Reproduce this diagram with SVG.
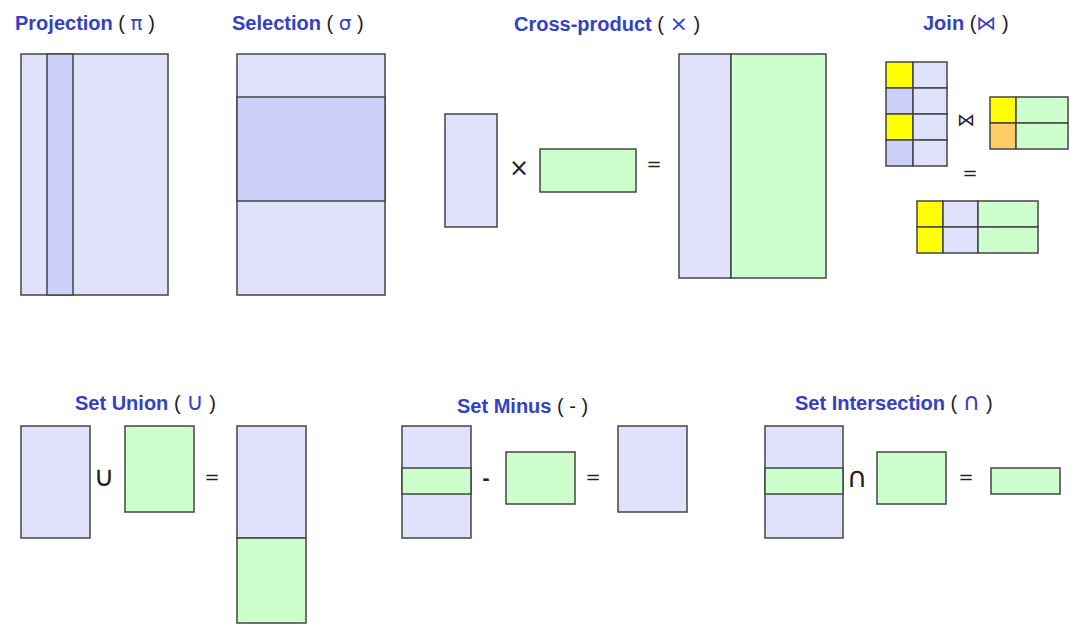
<svg xmlns="http://www.w3.org/2000/svg" width="1077" height="628" viewBox="0 0 1077 628">
<style>
.t{font-family:"Liberation Sans","DejaVu Sans",sans-serif;font-weight:bold;font-size:20px;fill:#3340c8}
.p{fill:#222;font-weight:normal}
.s{font-family:"DejaVu Sans",sans-serif;font-weight:normal}
.op{font-family:"DejaVu Sans","Liberation Sans",sans-serif;font-size:18px;fill:#222;text-anchor:middle}
.b{fill:#e0e2fc;stroke:#444;stroke-width:1.5}
.d{fill:#cbd0f8;stroke:#444;stroke-width:1.5}
.g{fill:#ccffcc;stroke:#444;stroke-width:1.5}
.y{fill:#ffff00;stroke:#444;stroke-width:1.5}
.o{fill:#ffcc66;stroke:#444;stroke-width:1.5}
</style>
<rect width="1077" height="628" fill="#fff"/>

<g id="projection">
<text class="t" x="15" y="30">Projection <tspan class="p">(</tspan> <tspan class="s">π</tspan> <tspan class="p">)</tspan></text>
<rect class="b" x="21" y="54" width="147" height="241"/>
<rect class="d" x="47" y="54" width="26" height="241"/>
</g>

<g id="selection">
<text class="t" x="232" y="30">Selection <tspan class="p">(</tspan> <tspan class="s">σ</tspan> <tspan class="p">)</tspan></text>
<rect class="b" x="237" y="54" width="148" height="241"/>
<rect class="d" x="237" y="97" width="148" height="104"/>
</g>

<g id="cross-product">
<text class="t" x="514" y="31">Cross-product <tspan class="p">(</tspan>  <tspan class="s" style="font-size:22px">×</tspan>  <tspan class="p">)</tspan></text>
<rect class="b" x="445" y="114" width="52" height="113"/>
<text class="op" x="519" y="176" style="font-size:24px">×</text>
<rect class="g" x="540" y="149" width="96" height="43"/>
<text class="op" x="654" y="170">=</text>
<rect class="b" x="679" y="54" width="52" height="224"/>
<rect class="g" x="731" y="54" width="95" height="224"/>
</g>

<g id="join">
<text class="t" x="923" y="30">Join <tspan class="p">(</tspan><tspan class="s">⋈</tspan> <tspan class="p">)</tspan></text>
<rect class="y" x="886" y="62" width="27" height="26"/>
<rect class="d" x="886" y="88" width="27" height="26"/>
<rect class="y" x="886" y="114" width="27" height="26"/>
<rect class="d" x="886" y="140" width="27" height="26"/>
<rect class="b" x="913" y="62" width="34" height="26"/>
<rect class="b" x="913" y="88" width="34" height="26"/>
<rect class="b" x="913" y="114" width="34" height="26"/>
<rect class="b" x="913" y="140" width="34" height="26"/>
<text class="op" x="966" y="126" style="font-size:18px">⋈</text>
<rect class="y" x="990" y="97" width="26" height="26"/>
<rect class="o" x="990" y="123" width="26" height="26"/>
<rect class="g" x="1016" y="97" width="52" height="26"/>
<rect class="g" x="1016" y="123" width="52" height="26"/>
<text class="op" x="970" y="179">=</text>
<rect class="y" x="917" y="201" width="26" height="26"/>
<rect class="y" x="917" y="227" width="26" height="26"/>
<rect class="b" x="943" y="201" width="35" height="26"/>
<rect class="b" x="943" y="227" width="35" height="26"/>
<rect class="g" x="978" y="201" width="60" height="26"/>
<rect class="g" x="978" y="227" width="60" height="26"/>
</g>

<g id="set-union">
<text class="t" x="75" y="410">Set Union <tspan class="p">(</tspan> <tspan class="s" style="font-size:24px">∪</tspan> <tspan class="p">)</tspan></text>
<rect class="b" x="21" y="426" width="69" height="112"/>
<text class="op" x="104" y="486" style="font-size:28px">∪</text>
<rect class="g" x="125" y="426" width="69" height="86"/>
<text class="op" x="212" y="483">=</text>
<rect class="b" x="237" y="426" width="69" height="112"/>
<rect class="g" x="237" y="538" width="69" height="85"/>
</g>

<g id="set-minus">
<text class="t" x="457" y="413">Set Minus <tspan class="p">( - )</tspan></text>
<rect class="b" x="402" y="426" width="69" height="112"/>
<rect class="g" x="402" y="468" width="69" height="26"/>
<text class="op" x="486" y="485" style="font-weight:bold">-</text>
<rect class="g" x="506" y="452" width="69" height="52"/>
<text class="op" x="593" y="483">=</text>
<rect class="b" x="618" y="426" width="69" height="86"/>
</g>

<g id="set-intersection">
<text class="t" x="795" y="410">Set Intersection <tspan class="p">(</tspan> <tspan class="s" style="font-size:24px">∩</tspan> <tspan class="p">)</tspan></text>
<rect class="b" x="765" y="426" width="78" height="112"/>
<rect class="g" x="765" y="468" width="78" height="26"/>
<text class="op" x="857" y="487" style="font-size:28px">∩</text>
<rect class="g" x="877" y="452" width="69" height="52"/>
<text class="op" x="966" y="483">=</text>
<rect class="g" x="991" y="468" width="69" height="26"/>
</g>

<g id="connectors"></g>
</svg>
